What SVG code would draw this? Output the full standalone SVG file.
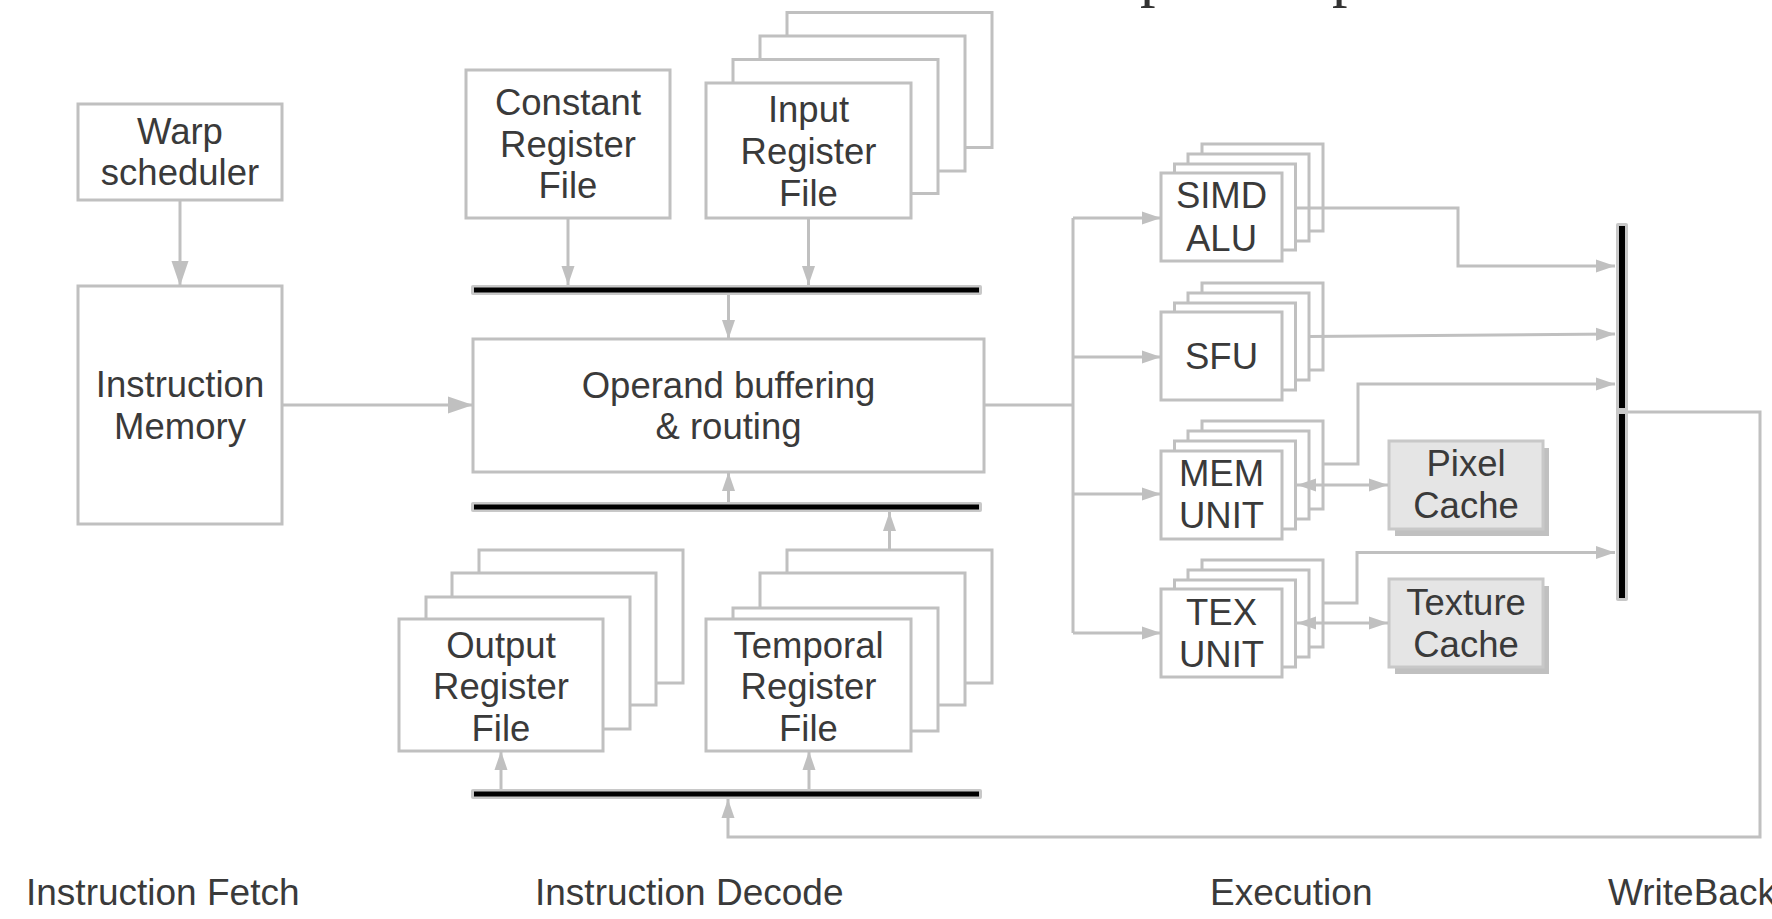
<svg xmlns="http://www.w3.org/2000/svg" width="1772" height="919" viewBox="0 0 1772 919">
<style>
.box{fill:#fff;stroke:#c0c0c0;stroke-width:3}
.cache{fill:#e5e5e5;stroke:#c8c8c8;stroke-width:3}
.shadow{fill:#c0c0c0}
.t{font-family:"Liberation Sans",Arial,sans-serif;font-size:36.5px;fill:#3a3a3a;text-anchor:middle}
.lbl{font-family:"Liberation Sans",Arial,sans-serif;font-size:37px;fill:#3a3a3a}
.c{fill:none;stroke:#c0c0c0;stroke-width:3}
.busg{fill:#c8c8c8}
.busb{stroke:#000;stroke-width:5}
.ttl{font-family:"Liberation Serif","Times New Roman",serif;font-size:62px;fill:#333}
</style>
<defs>
<marker id="a" markerUnits="userSpaceOnUse" markerWidth="20" markerHeight="14" refX="19" refY="7" orient="auto"><path d="M0,0.5 L19,7 L0,13.5 Z" fill="#c0c0c0"/></marker>
<marker id="b" markerUnits="userSpaceOnUse" markerWidth="26" markerHeight="18" refX="25" refY="9" orient="auto"><path d="M0,0.5 L25,9 L0,17.5 Z" fill="#c0c0c0"/></marker>
<marker id="s" markerUnits="userSpaceOnUse" markerWidth="20" markerHeight="14" refX="1" refY="7" orient="auto"><path d="M20,0.5 L1,7 L20,13.5 Z" fill="#c0c0c0"/></marker>
</defs>

<text class="ttl" x="1140" y="-5">p</text>
<text class="ttl" x="1332" y="-5">p</text>

<g id="connectors">
<path class="c" d="M180,200 V286" marker-end="url(#b)"/>
<path class="c" d="M282,405 H473" marker-end="url(#b)"/>
<path class="c" d="M568,218 V285" marker-end="url(#a)"/>
<path class="c" d="M808.5,218 V285" marker-end="url(#a)"/>
<path class="c" d="M728.5,295 V339" marker-end="url(#a)"/>
<path class="c" d="M728.5,502 V472" marker-end="url(#a)"/>
<path class="c" d="M889.5,550 V512" marker-end="url(#a)"/>
<path class="c" d="M501,789 V751" marker-end="url(#a)"/>
<path class="c" d="M809,789 V751" marker-end="url(#a)"/>
<path class="c" d="M984,405 H1073"/>
<path class="c" d="M1073,218 V633"/>
<path class="c" d="M1073,218 H1161" marker-end="url(#a)"/>
<path class="c" d="M1073,357 H1161" marker-end="url(#a)"/>
<path class="c" d="M1073,494 H1161" marker-end="url(#a)"/>
<path class="c" d="M1073,633 H1161" marker-end="url(#a)"/>
<path class="c" d="M1628,412 H1760 V837 H728 V799" marker-end="url(#a)"/>
</g>

<g id="warp-scheduler">
<rect class="box" x="78" y="104" width="204" height="96"/>
<text class="t" x="180" y="144">Warp</text>
<text class="t" x="180" y="185">scheduler</text>
</g>

<g id="instruction-memory">
<rect class="box" x="78" y="286" width="204" height="238"/>
<text class="t" x="180" y="397">Instruction</text>
<text class="t" x="180" y="439">Memory</text>
</g>

<g id="constant-register-file">
<rect class="box" x="466" y="70" width="204" height="148"/>
<text class="t" x="568" y="115">Constant</text>
<text class="t" x="568" y="157">Register</text>
<text class="t" x="568" y="198">File</text>
</g>

<g id="input-register-file">
<rect class="box" x="787" y="12.5" width="205" height="135"/>
<rect class="box" x="760" y="36" width="205" height="135"/>
<rect class="box" x="733" y="59.5" width="205" height="134"/>
<rect class="box" x="706" y="83" width="205" height="135"/>
<text class="t" x="808.5" y="122">Input</text>
<text class="t" x="808.5" y="164">Register</text>
<text class="t" x="808.5" y="206">File</text>
</g>

<g id="top-bus">
<rect class="busg" x="471" y="285" width="511" height="10" rx="2"/>
<line class="busb" x1="474" y1="290" x2="979" y2="290"/>
</g>

<g id="operand-buffering">
<rect class="box" x="473" y="339" width="511" height="133"/>
<text class="t" x="728.5" y="398">Operand buffering</text>
<text class="t" x="728.5" y="439">&amp; routing</text>
</g>

<g id="middle-bus">
<rect class="busg" x="471" y="502" width="511" height="10" rx="2"/>
<line class="busb" x1="474" y1="507" x2="979" y2="507"/>
</g>

<g id="output-register-file">
<rect class="box" x="479" y="550" width="204" height="133"/>
<rect class="box" x="452" y="573" width="204" height="132"/>
<rect class="box" x="426" y="597" width="204" height="132"/>
<rect class="box" x="399" y="619" width="204" height="132"/>
<text class="t" x="501" y="658">Output</text>
<text class="t" x="501" y="699">Register</text>
<text class="t" x="501" y="741">File</text>
</g>

<g id="temporal-register-file">
<rect class="box" x="787" y="550" width="205" height="133"/>
<rect class="box" x="760" y="573" width="205" height="132"/>
<rect class="box" x="733" y="608" width="205" height="123"/>
<rect class="box" x="706" y="619" width="205" height="132"/>
<text class="t" x="808.5" y="658">Temporal</text>
<text class="t" x="808.5" y="699">Register</text>
<text class="t" x="808.5" y="741">File</text>
</g>

<g id="bottom-bus">
<rect class="busg" x="471" y="789" width="511" height="10" rx="2"/>
<line class="busb" x1="474" y1="794" x2="979" y2="794"/>
</g>

<g id="simd-alu">
<rect class="box" x="1202" y="144" width="121" height="87"/>
<rect class="box" x="1188" y="154" width="121" height="87"/>
<rect class="box" x="1174.5" y="164" width="121" height="86"/>
<rect class="box" x="1161" y="173" width="121" height="88"/>
<text class="t" x="1221.5" y="208">SIMD</text>
<text class="t" x="1221.5" y="251">ALU</text>
</g>

<g id="sfu">
<rect class="box" x="1202" y="283" width="121" height="87"/>
<rect class="box" x="1188" y="293" width="121" height="87"/>
<rect class="box" x="1174.5" y="303" width="121" height="87"/>
<rect class="box" x="1161" y="312" width="121" height="88"/>
<text class="t" x="1221.5" y="369">SFU</text>
</g>

<g id="mem-unit">
<rect class="box" x="1202" y="421" width="121" height="88"/>
<rect class="box" x="1188" y="431" width="121" height="88"/>
<rect class="box" x="1174.5" y="441" width="121" height="88"/>
<rect class="box" x="1161" y="451" width="121" height="88"/>
<text class="t" x="1221.5" y="486">MEM</text>
<text class="t" x="1221.5" y="528">UNIT</text>
</g>

<g id="tex-unit">
<rect class="box" x="1202" y="560" width="121" height="87"/>
<rect class="box" x="1188" y="570" width="121" height="87"/>
<rect class="box" x="1174.5" y="580" width="121" height="87"/>
<rect class="box" x="1161" y="589" width="121" height="88"/>
<text class="t" x="1221.5" y="625">TEX</text>
<text class="t" x="1221.5" y="667">UNIT</text>
</g>

<g id="pixel-cache">
<rect class="shadow" x="1395" y="448" width="154" height="88"/>
<rect class="cache" x="1389" y="441" width="154" height="88"/>
<text class="t" x="1466" y="476">Pixel</text>
<text class="t" x="1466" y="518">Cache</text>
</g>

<g id="texture-cache">
<rect class="shadow" x="1395" y="586" width="154" height="88"/>
<rect class="cache" x="1389" y="579" width="154" height="88"/>
<text class="t" x="1466" y="615">Texture</text>
<text class="t" x="1466" y="657">Cache</text>
</g>

<g id="exec-connectors">
<path class="c" d="M1296,208 H1458 V266 H1615" marker-end="url(#a)"/>
<path class="c" d="M1309,336.5 L1615,334" marker-end="url(#a)"/>
<path class="c" d="M1322,464 H1358 V384 H1615" marker-end="url(#a)"/>
<path class="c" d="M1322,603 H1357 V552.5 H1615" marker-end="url(#a)"/>
<path class="c" d="M1297,485 H1388" marker-start="url(#s)" marker-end="url(#a)"/>
<path class="c" d="M1297,623 H1388" marker-start="url(#s)" marker-end="url(#a)"/>
</g>

<g id="writeback-bar">
<rect class="busg" x="1616" y="223" width="12" height="378" rx="2"/>
<rect x="1619" y="226" width="6" height="182" fill="#000"/>
<rect x="1619" y="414" width="6" height="184" fill="#000"/>
</g>

<g id="stage-labels">
<text class="lbl" x="26" y="905">Instruction Fetch</text>
<text class="lbl" x="535" y="905">Instruction Decode</text>
<text class="lbl" x="1210" y="905">Execution</text>
<text class="lbl" x="1608" y="905">WriteBack</text>
</g>
</svg>
